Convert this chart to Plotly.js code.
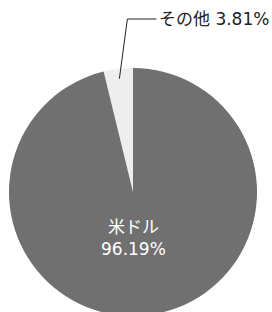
<!DOCTYPE html>
<html><head><meta charset="utf-8">
<script src="https://cdn.plot.ly/plotly-3.0.1.min.js"></script>
<style>html,body{margin:0;padding:0;overflow:hidden;background:#fff;}#chart{width:272px;height:316px;}</style>
</head><body><div id="chart"></div>
<script>
const labels = ['その他', '米ドル'];
const values = [3.81, 96.19];
const colors = ['#eeeeee', '#707070'];

const W = 272, H = 316;
const M = {l: 9, r: 15, t: 68, b: 0};
const plotW = W - M.l - M.r, plotH = H - M.t - M.b;
const cx = M.l + plotW / 2, cy = M.t + plotH / 2, R = Math.min(plotW, plotH) / 2;
const total = values.reduce((a, b) => a + b, 0);
const firstDeg = values[0] / total * 360;
const midA = (firstDeg / 2) * Math.PI / 180; // half angle of first slice, to the left of top
const p0 = {x: cx - 0.92 * R * Math.sin(midA), y: cy - 0.92 * R * Math.cos(midA)};
const elbow = {x: p0.x + 8, y: 19};
const lineEnd = {x: elbow.x + 29, y: 19};
const px = x => (x - M.l) / plotW;
const py = y => 1 - (y - M.t) / plotH;
const FONT = 'DejaVu Sans, Noto Sans CJK JP';

const trace = {
  type: 'pie', labels: labels, values: values, sort: false,
  direction: 'clockwise', rotation: -firstDeg,
  marker: {colors: colors, line: {width: 0}},
  textinfo: 'none',
  hoverinfo: 'skip', showlegend: false
};
const layout = {
  width: W, height: H, margin: M, paper_bgcolor: '#fff',
  font: {family: FONT, size: 17, color: '#222'},
  shapes: [{type: 'path', xref: 'paper', yref: 'paper',
    path: `M ${px(p0.x)} ${py(p0.y)} L ${px(elbow.x)} ${py(elbow.y)} L ${px(lineEnd.x)} ${py(lineEnd.y)}`,
    line: {color: '#222', width: 1}}],
  annotations: [
    {xref: 'paper', yref: 'paper', x: px(lineEnd.x + 1), y: py(lineEnd.y),
     xanchor: 'left', yanchor: 'middle', showarrow: false,
     text: labels[0] + ' ' + values[0].toFixed(2) + '%',
     font: {family: FONT, size: 17, color: '#222'}},
    {xref: 'paper', yref: 'paper', x: px(cx), y: py(cy + 0.37 * R),
     xanchor: 'center', yanchor: 'middle', showarrow: false,
     text: labels[1] + '<br>' + values[1].toFixed(2) + '%',
     font: {family: FONT, size: 17, color: '#ffffff'}}
  ]
};
Plotly.newPlot('chart', [trace], layout, {staticPlot: true, displayModeBar: false});
</script></body></html>
